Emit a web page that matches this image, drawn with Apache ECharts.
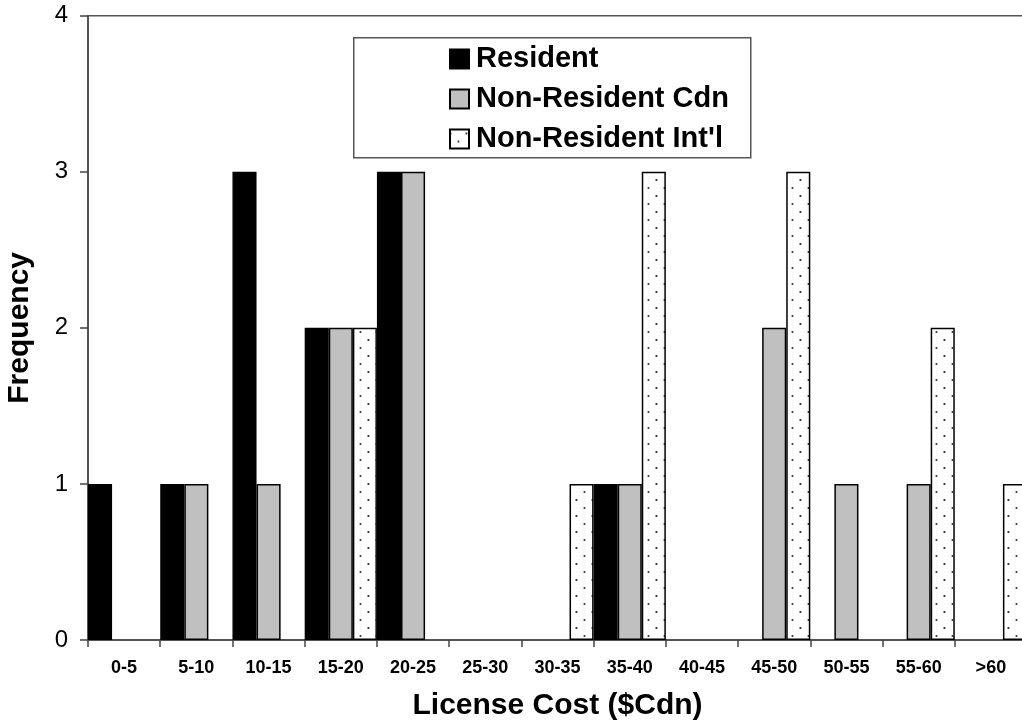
<!DOCTYPE html>
<html>
<head>
<meta charset="utf-8">
<script src="https://cdn.jsdelivr.net/npm/echarts@6/dist/echarts.min.js"></script>
<style>
html,body{margin:0;padding:0;background:#fff;}
#chart{width:1022px;height:728px;}
</style>
</head>
<body>
<div id="chart"></div>
<script>
var categories = ['0-5','5-10','10-15','15-20','20-25','25-30','30-35','35-40','40-45','45-50','50-55','55-60','>60'];
var resident    = [1,1,3,2,3,0,0,1,0,0,0,0,0];
var nonResCdn   = [0,1,1,2,3,0,0,1,0,2,1,1,0];
var nonResIntl  = [0,0,0,2,0,0,1,3,0,3,0,2,1];
var yTicks = [0,1,2,3,4];

var FONT = '"Liberation Sans", Arial, sans-serif';

// dotted fill pattern
var pc = document.createElement('canvas');
pc.width = 16; pc.height = 16;
var pctx = pc.getContext('2d');
pctx.fillStyle = '#ffffff';
pctx.fillRect(0,0,16,16);
pctx.fillStyle = '#333333';
pctx.beginPath(); pctx.arc(0.5,4,1.1,0,Math.PI*2); pctx.fill();
pctx.beginPath(); pctx.arc(16.5,4,1.1,0,Math.PI*2); pctx.fill();
pctx.beginPath(); pctx.arc(8.5,12,1.1,0,Math.PI*2); pctx.fill();

function nz(arr){ return arr.map(function(v){ return v === 0 ? '-' : v; }); }

var chart = echarts.init(document.getElementById('chart'), null, {renderer:'canvas'});
chart.setOption({
  animation: false,
  backgroundColor: '#ffffff',
  grid: {left: 88, right: -5, top: 15.7, bottom: 88, containLabel: false, outerBoundsMode: 'none',
         show: true, borderColor: '#555', borderWidth: 1.5, backgroundColor: 'transparent'},
  graphic: [{
    type: 'rect', left: 353, top: 37, z: 1,
    shape: {width: 397, height: 120},
    style: {fill: '#fff', stroke: '#555', lineWidth: 1.5}
  }],
  legend: {
    orient: 'vertical', left: 449, top: 44, padding: 0, z: 5,
    itemWidth: 19, itemHeight: 19, itemGap: 10,
    icon: 'rect',
    textStyle: {fontFamily: FONT, fontSize: 29, fontWeight: 'bold', color: '#000', lineHeight: 30, padding: [0,0,0,2]},
    data: ['Resident','Non-Resident Cdn',"Non-Resident Int'l"]
  },
  xAxis: {
    type: 'category', data: categories, boundaryGap: true,
    name: 'License Cost ($Cdn)', nameLocation: 'middle', nameGap: 51,
    nameTextStyle: {fontFamily: FONT, fontSize: 30, fontWeight: 'bold', color: '#000'},
    axisLine: {lineStyle: {color: '#444', width: 1.5}},
    axisTick: {show: true, length: 7, lineStyle: {color: '#444', width: 1.5}},
    axisLabel: {fontFamily: FONT, fontSize: 18, fontWeight: 'bold', color: '#000', margin: 19, interval: 0},
    splitLine: {show: false}
  },
  yAxis: {
    type: 'value', min: yTicks[0], max: yTicks[yTicks.length-1], interval: 1,
    name: 'Frequency', nameLocation: 'middle', nameGap: 53,
    nameTextStyle: {fontFamily: FONT, fontSize: 30, fontWeight: 'bold', color: '#000'},
    axisLine: {show: true, lineStyle: {color: '#444', width: 1.5}},
    axisTick: {show: true, length: 8, lineStyle: {color: '#444', width: 1.5}},
    axisLabel: {fontFamily: FONT, fontSize: 24, color: '#000', margin: 20},
    splitLine: {show: false}
  },
  series: [
    {name: 'Resident', type: 'bar', data: nz(resident), barGap: '0%', barCategoryGap: '0%',
     itemStyle: {color: '#000000', borderColor: '#000', borderWidth: 1.5}},
    {name: 'Non-Resident Cdn', type: 'bar', data: nz(nonResCdn), barGap: '0%', barCategoryGap: '0%',
     itemStyle: {color: '#c0c0c0', borderColor: '#000', borderWidth: 1.5}},
    {name: "Non-Resident Int'l", type: 'bar', data: nz(nonResIntl), barGap: '0%', barCategoryGap: '0%',
     itemStyle: {color: {image: pc, repeat: 'repeat'}, borderColor: '#000', borderWidth: 1.5}}
  ]
});
</script>
</body>
</html>
